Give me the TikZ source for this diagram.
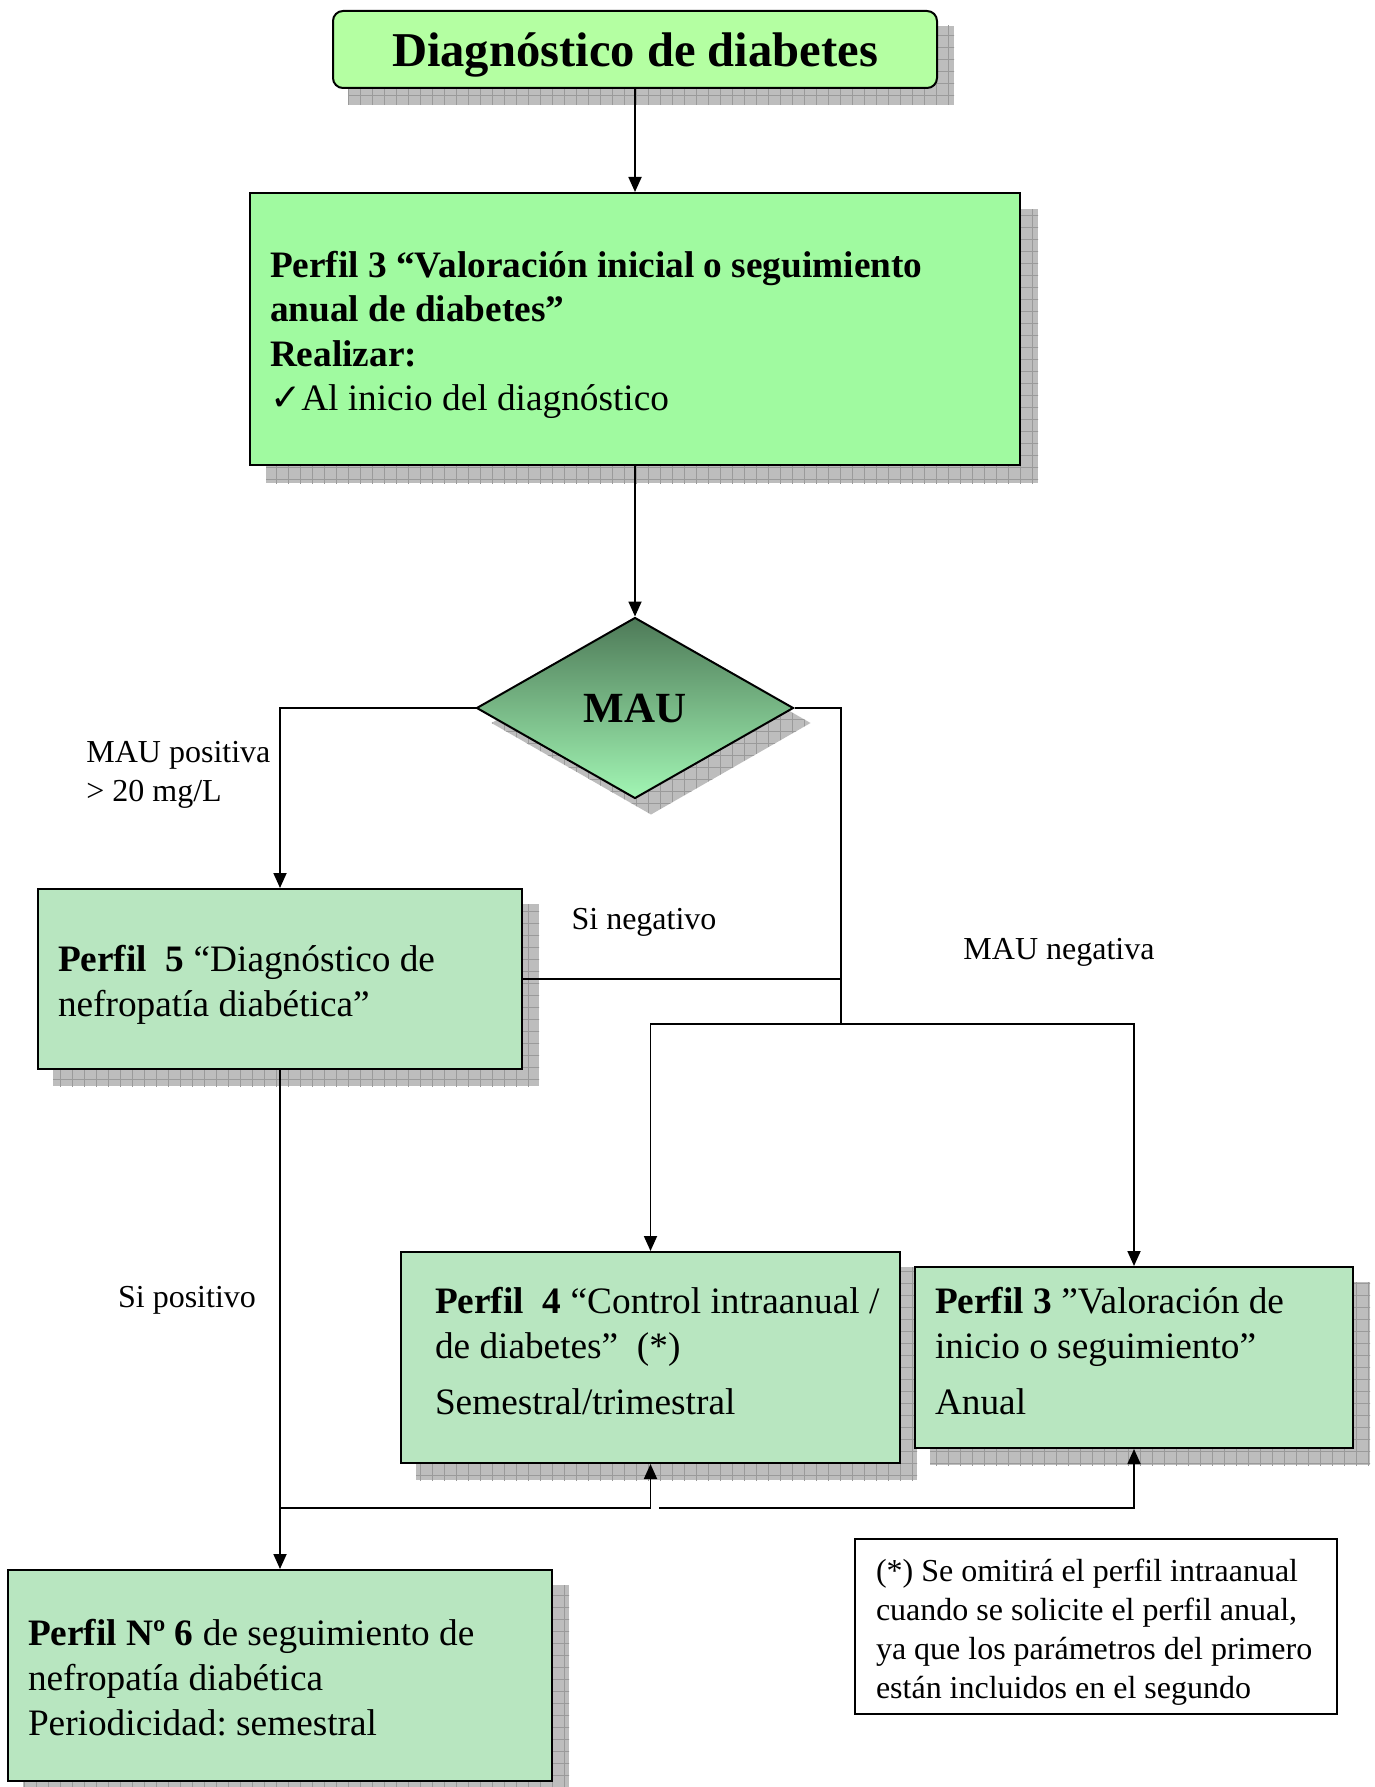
\documentclass[tikz,border=0pt]{standalone}
\usepackage{fontspec}
\setmainfont{Liberation Serif}
\newfontfamily\symfont{DejaVu Sans}
\usetikzlibrary{shapes.geometric,arrows.meta,patterns.meta,calc}
\pgfdeclarelayer{bg}
\pgfsetlayers{bg,main}
\frenchspacing
\definecolor{titlefill}{HTML}{B4FFA2}
\definecolor{mainfill}{HTML}{A0FAA0}
\definecolor{boxfill}{HTML}{B8E6C0}
\definecolor{diatop}{HTML}{4E7A58}
\definecolor{diabot}{HTML}{A2F6B4}
\definecolor{shadowgray}{HTML}{BDBDBD}
\definecolor{gridgray}{HTML}{9A9A9A}
\newcommand\fsN{\fontsize{18.65pt}{22.3pt}\selectfont}
\newcommand\fsS{\fontsize{16pt}{19.5pt}\selectfont}
\newcommand\fsT{\fontsize{24.3pt}{28pt}\selectfont}
\newcommand\fsM{\fontsize{21.5pt}{25pt}\selectfont}
% #3 = extra height added on top (positive moves the text down by half of it)
\newcommand\btext[4]{\makebox[#1][l]{\hspace*{#2}\raisebox{0pt}[\dimexpr\height+#3\relax][\depth]{\begin{tabular}{@{}l@{}}#4\end{tabular}}}}
\begin{document}
\begin{tikzpicture}[x=0.5pt,y=-0.5pt,
  shadowfill/.style={fill=shadowgray, postaction={pattern={Hatch[angle=0,distance=6pt,line width=0.35pt]}, pattern color=gridgray}},
  pbox/.style={draw, line width=1pt, rectangle, inner sep=0pt, font=\fsN},
  titlebox/.style={draw, line width=1pt, rounded corners=5pt, fill=titlefill, minimum width=302pt, minimum height=38.5pt, inner sep=0pt, font=\fsT\bfseries},
  decision/.style={diamond, draw, line width=1pt, top color=diatop, bottom color=diabot, minimum width=158.5pt, minimum height=90.5pt, inner sep=0pt, font=\fsM\bfseries},
  arr/.style={line width=0.9pt, -{Triangle[length=7.5pt,width=6.5pt]}},
  conn/.style={line width=0.9pt},
  lbl/.style={font=\fsS, inner sep=0pt, align=left}]
\useasboundingbox (0,0) rectangle (1375,1787);

% nodes
\node[titlebox] (title) at (635,49.5) {\raisebox{0pt}[\dimexpr\height+5.7pt\relax][\depth]{Diagnóstico de diabetes}};

\node[pbox, fill=mainfill, minimum height=136pt] (b2) at (635,329)
 {\btext{385pt}{10pt}{6pt}{\textbf{Perfil 3 “Valoración inicial o seguimiento}\\
  \textbf{anual de diabetes”}\\
  \textbf{Realizar:}\\
  {\symfont ✓}Al inicio del diagnóstico}};

\node[decision] (mau) at (635,708) {MAU};

\node[pbox, fill=boxfill, minimum height=90pt] (b5) at (280,979)
 {\btext{242pt}{10pt}{6pt}{\textbf{Perfil\ \ 5} “Diagnóstico de\\
  nefropatía diabética”}};

\node[pbox, fill=boxfill, minimum height=105.5pt] (b4) at (650.5,1357.5)
 {\btext{249.5pt}{17pt}{-2.4pt}{\textbf{Perfil\ \ 4} “Control intraanual /\\
  de diabetes”\ \ (*)\\[5.7pt]
  Semestral/trimestral}};

\node[pbox, fill=boxfill, minimum height=90.5pt] (b3) at (1134,1357.5)
 {\btext{219pt}{10pt}{-2.4pt}{\textbf{Perfil 3} ”Valoración de\\
  inicio o seguimiento”\\[5.7pt]
  Anual}};

\node[pbox, fill=boxfill, minimum height=105.5pt] (b6) at (280,1675.5)
 {\btext{272pt}{10pt}{6pt}{\textbf{Perfil Nº 6} de seguimiento de\\
  nefropatía diabética\\
  Periodicidad: semestral}};

\node[pbox, font=\fsS, minimum height=87.5pt] (note) at (1096,1626.5)
 {\btext{241pt}{10.5pt}{6pt}{(*) Se omitirá el perfil intraanual\\
  cuando se solicite el perfil anual,\\
  ya que los parámetros del primero\\
  están incluidos en el segundo}};

% labels
\node[lbl, anchor=west] (lpos) at (86,775) {MAU positiva\\> 20 mg/L};
\node[lbl] (lneg) at (644,922.5) {Si negativo};
\node[lbl] (lmneg) at (1059,952.5) {MAU negativa};
\node[lbl] (lspos) at (187,1300.5) {Si positivo};

% shadows
\begin{pgfonlayer}{bg}
 \fill[white] (0,0) rectangle (1375,1787);
 \path[shadowfill] ([shift={(16,16)}]title.north west) rectangle ([shift={(16,16)}]title.south east);
 \path[shadowfill] ([shift={(17,17)}]b2.north west) rectangle ([shift={(17,17)}]b2.south east);
 \path[shadowfill] ([shift={(16,15)}]mau.north) -- ([shift={(16,15)}]mau.east) -- ([shift={(16,15)}]mau.south) -- ([shift={(16,15)}]mau.west) -- cycle;
 \path[shadowfill] ([shift={(16,16)}]b5.north west) rectangle ([shift={(16,16)}]b5.south east);
 \path[shadowfill] ([shift={(16,16)}]b4.north west) rectangle ([shift={(16,16)}]b4.south east);
 \path[shadowfill] ([shift={(16,16)}]b3.north west) rectangle ([shift={(16,16)}]b3.south east);
 \path[shadowfill] ([shift={(16,16)}]b6.north west) rectangle ([shift={(16,16)}]b6.south east);
\end{pgfonlayer}

% junctions
\coordinate (j1) at (841,1024);
\coordinate (j2) at (280,1508);
\coordinate (j3) at (659,1508);

% connectors
\draw[arr] (title.south) -- (b2.north);
\draw[arr] (b2.south) -- (mau.north);
\draw[arr] (mau.west) -| (b5.north);
\draw[conn] (mau.east) -| (j1);
\draw[conn] (b5.east) -- (b5.east -| j1);
\draw[arr] (j1) -| (b4.north);
\draw[arr] (j1) -| (b3.north);
\draw[arr] (b5.south) -- (b6.north);
\draw[arr] (j2) -| (b4.south);
\draw[arr] (j3) -| (b3.south);
\end{tikzpicture}
\end{document}
